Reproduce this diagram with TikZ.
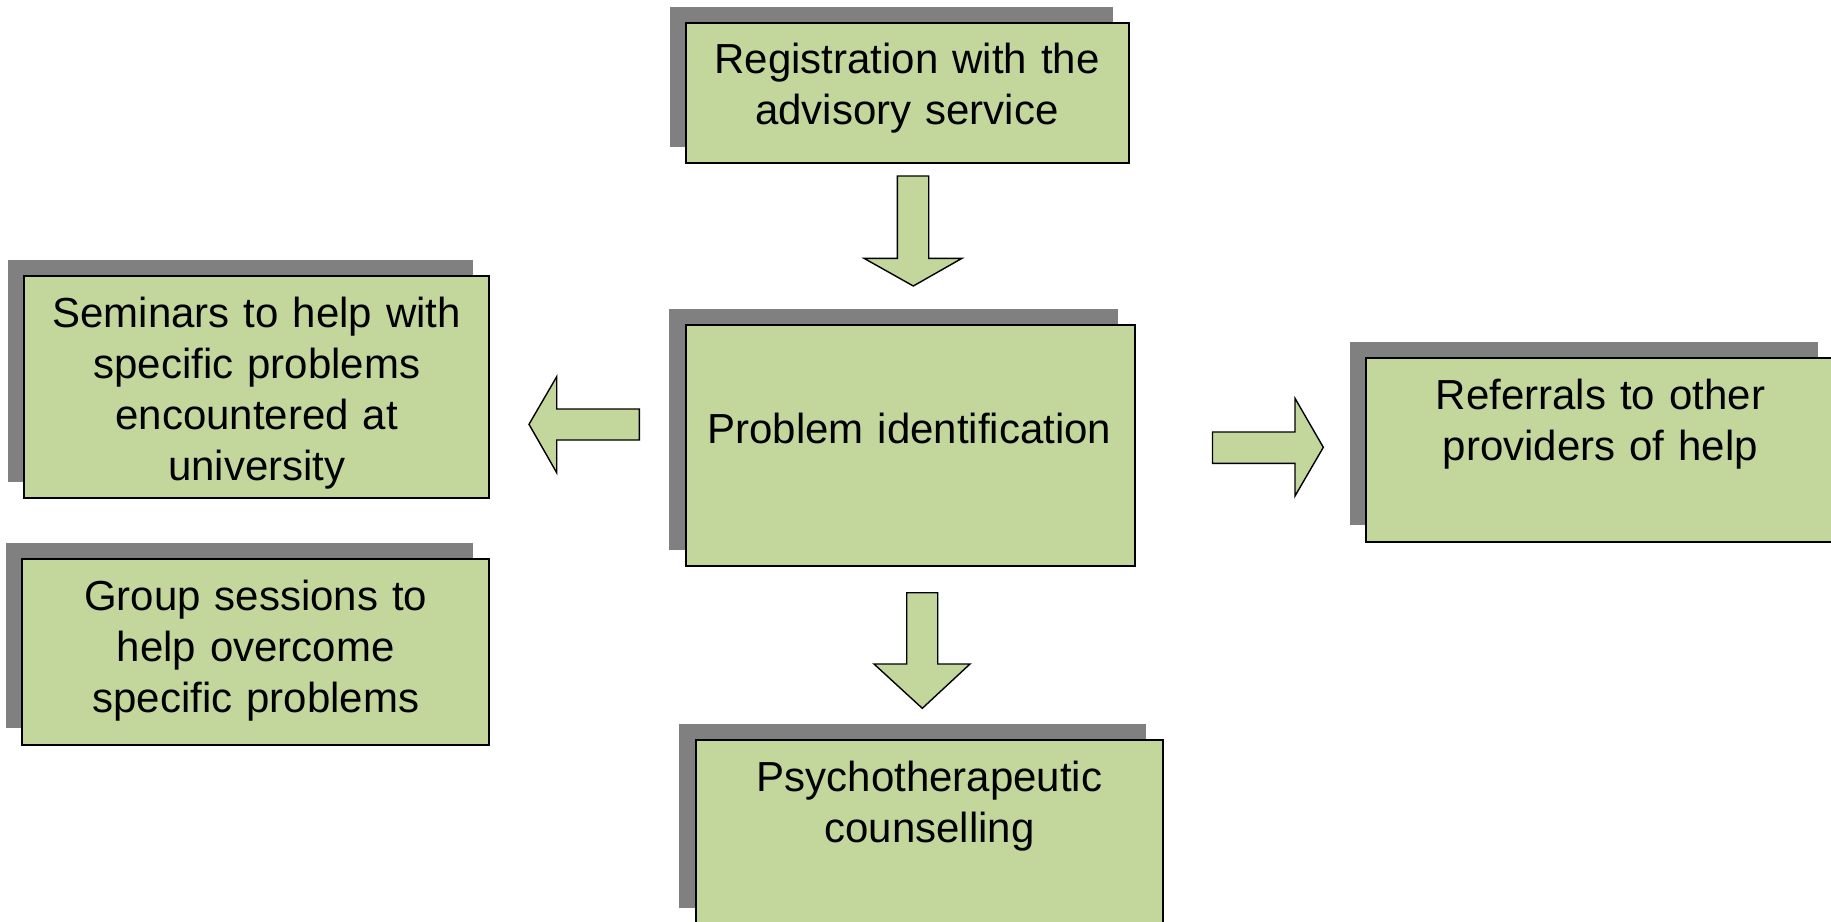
\documentclass[tikz,border=0pt]{standalone}
\usepackage{fontspec}
\setmainfont{Liberation Sans}
\usetikzlibrary{shadows,calc}
\definecolor{boxgreen}{HTML}{C3D69B}
\definecolor{shadowgray}{HTML}{808080}
\begin{document}
\begin{tikzpicture}[x=1pt,y=-1pt,
  box/.style={rectangle, draw=black, line width=1.8pt, fill=boxgreen, inner sep=0pt,
    general shadow={fill=shadowgray, draw=none, shadow xshift=-16.5pt, shadow yshift=16.5pt}},
  lbl/.style={anchor=base, text width=460pt, align=center, inner sep=0pt,
    font=\fontsize{42}{51}\selectfont},
  blockarrow/.style={draw=black, line width=1.4pt, fill=boxgreen, line join=miter}]
\useasboundingbox (0,0) rectangle (1831,921);
\fill[white] (0,0) rectangle (1831,921);
\clip (0,0) rectangle (1831,921);

% boxes
\node[box, minimum width=443pt, minimum height=140pt] (reg) at (907.5,93) {};
\node[box, minimum width=465pt, minimum height=222.3pt] (sem) at (256.8,387.2) {};
\node[box, minimum width=467.3pt, minimum height=185.4pt] (grp) at (255.7,652) {};
\node[box, minimum width=449.3pt, minimum height=241pt] (prob) at (910.3,445.5) {};
\node[box, minimum width=468.3pt, minimum height=183.4pt] (ref) at (1600.2,450) {};
\node[box, minimum width=467pt, minimum height=184.4pt] (psy) at (929.2,832.2) {};

% texts
\node[lbl] (regt) at ($(reg.north)+(-0.5,51.8)$) {Registration with the\\advisory service};
\node[lbl] (semt) at ($(sem.north)+(0,52.5)$) {Seminars to help with\\specific problems\\encountered at\\university};
\node[lbl] (grpt) at ($(grp.north)+(0,52)$) {Group sessions to\\help overcome\\specific problems};
\node[lbl] (probt) at ($(prob.north)+(-1,119.5)$) {Problem identification};
\node[lbl] (reft) at ($(ref.north)+(0.3,52.3)$) {Referrals to other\\providers of help};
\node[lbl] (psyt) at ($(psy.north)+(0.3,52)$) {Psychotherapeutic\\counselling};

% block arrows
\draw[blockarrow] (897.3,176) -- (928.7,176) -- (928.7,258.3) -- (962,258.3) -- (913.3,286) -- (864,258.3) -- (897.3,258.3) -- cycle;
\draw[blockarrow] (639.3,409) -- (639.3,440) -- (556.7,440) -- (556.7,472.7) -- (529,424.3) -- (556.7,376.7) -- (556.7,409) -- cycle;
\draw[blockarrow] (1212.5,432) -- (1295,432) -- (1295,398.3) -- (1323.3,447.3) -- (1295,496) -- (1295,463.3) -- (1212.5,463.3) -- cycle;
\draw[blockarrow] (906.7,592.7) -- (937.7,592.7) -- (937.7,664) -- (970,664) -- (922.3,708.3) -- (874,664) -- (906.7,664) -- cycle;
\end{tikzpicture}
\end{document}
